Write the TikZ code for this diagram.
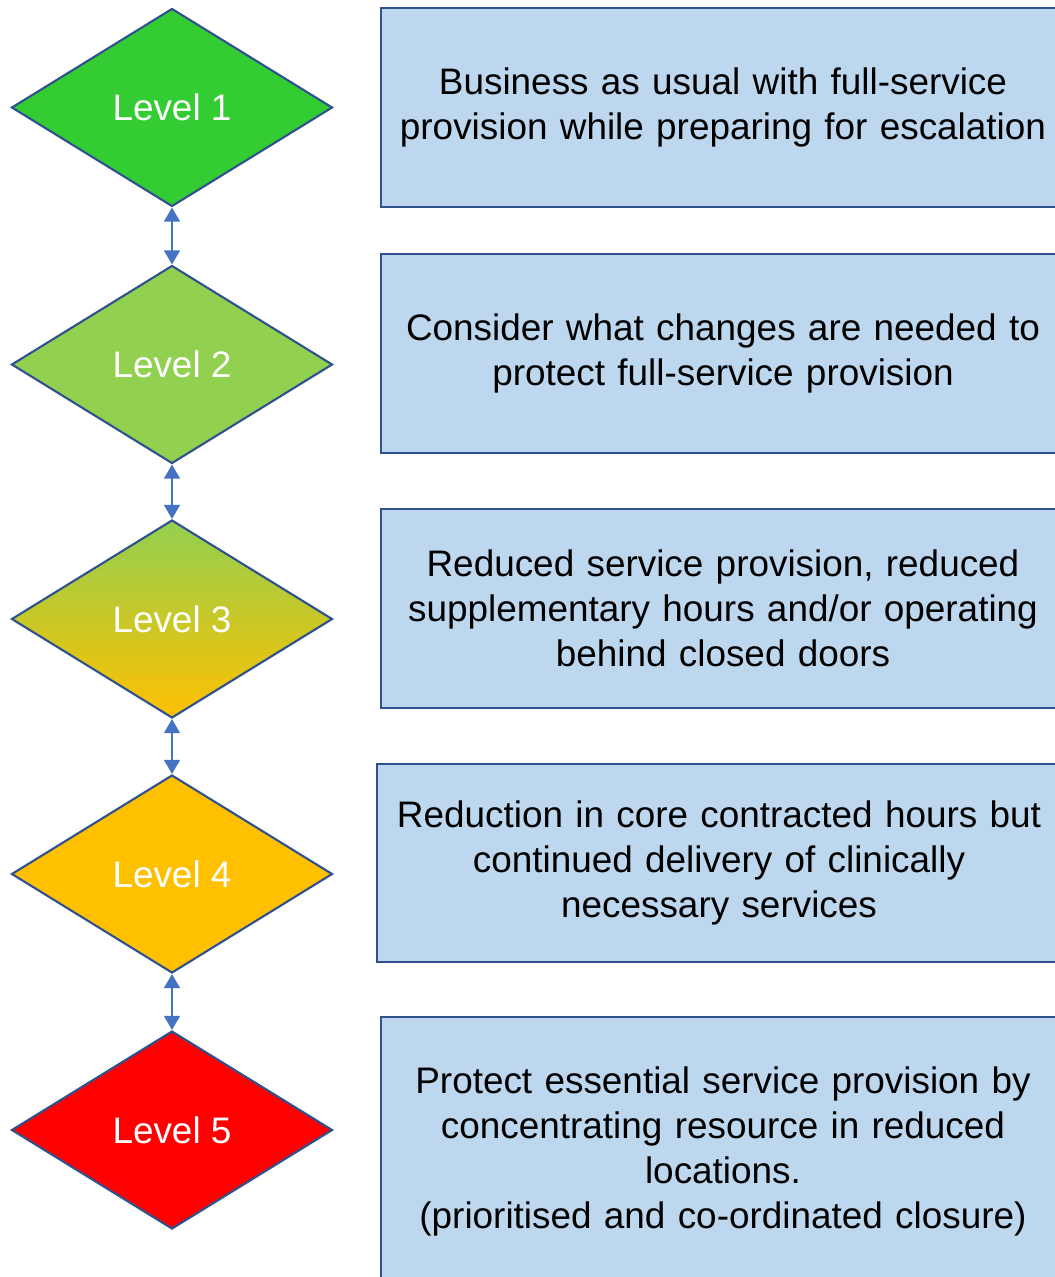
\documentclass[tikz,border=0pt]{standalone}
\usepackage{fontspec}
\setmainfont{Liberation Sans}
\usetikzlibrary{shapes.geometric,arrows.meta}

\definecolor{lvlone}{HTML}{33CC33}
\definecolor{lvltwo}{HTML}{92D050}
\definecolor{lvlfour}{HTML}{FFC000}
\definecolor{lvlfive}{HTML}{FF0000}
\definecolor{boxfill}{HTML}{BDD7EE}
\definecolor{edge}{HTML}{2F528F}
\definecolor{link}{HTML}{4472C4}

\tikzset{
  level/.style={diamond,draw=edge,line width=1.2pt,minimum width=6.42cm,minimum height=3.96cm,inner sep=0,text=white,font=\fontsize{21}{25.6}\selectfont},
  desc/.style={rectangle,draw=edge,line width=1.1pt,fill=boxfill,minimum width=13.68cm,text width=13.4cm,align=center,font=\fontsize{21}{25.6}\selectfont},
  updown/.style={link,line width=1.1pt,{Triangle[width=9pt,length=8pt]}-{Triangle[width=9pt,length=8pt]}}
}

\begin{document}
\begin{tikzpicture}
        \useasboundingbox (0,0) rectangle (21.1,-25.54);
        \clip (0,0) rectangle (21.1,-25.54);
        \node[level,fill=lvlone] (l1) at (3.44,-2.15) {Level 1};
        \node[level,fill=lvltwo] (l2) at (3.44,-7.29) {Level 2};
        \node[level,top color=lvltwo,bottom color=lvlfour] (l3) at (3.44,-12.38) {Level 3};
        \node[level,fill=lvlfour] (l4) at (3.44,-17.48) {Level 4};
        \node[level,fill=lvlfive] (l5) at (3.44,-22.6) {Level 5};
        \node[desc,minimum height=3.98cm] (b1) at (14.46,-2.15) {Business as usual with full-service\\provision while preparing for escalation};
        \node[desc,minimum height=3.98cm] (b2) at (14.46,-7.07) {Consider what changes are needed to\\protect full-service provision};
        \node[desc,minimum height=3.98cm] (b3) at (14.46,-12.17) {Reduced service provision, reduced\\supplementary hours and/or operating\\behind closed doors};
        \node[desc,minimum height=3.96cm] (b4) at (14.38,-17.26) {Reduction in core contracted hours but\\continued delivery of clinically\\necessary services};
        \node[desc,minimum height=5.36cm] (b5) at (14.46,-23.02) {Protect essential service provision by\\concentrating resource in reduced\\locations.\\(prioritised and co-ordinated closure)};
        \draw[updown] (l1) -- (l2);
        \draw[updown] (l2) -- (l3);
        \draw[updown] (l3) -- (l4);
        \draw[updown] (l4) -- (l5);
      \end{tikzpicture}
\end{document}
